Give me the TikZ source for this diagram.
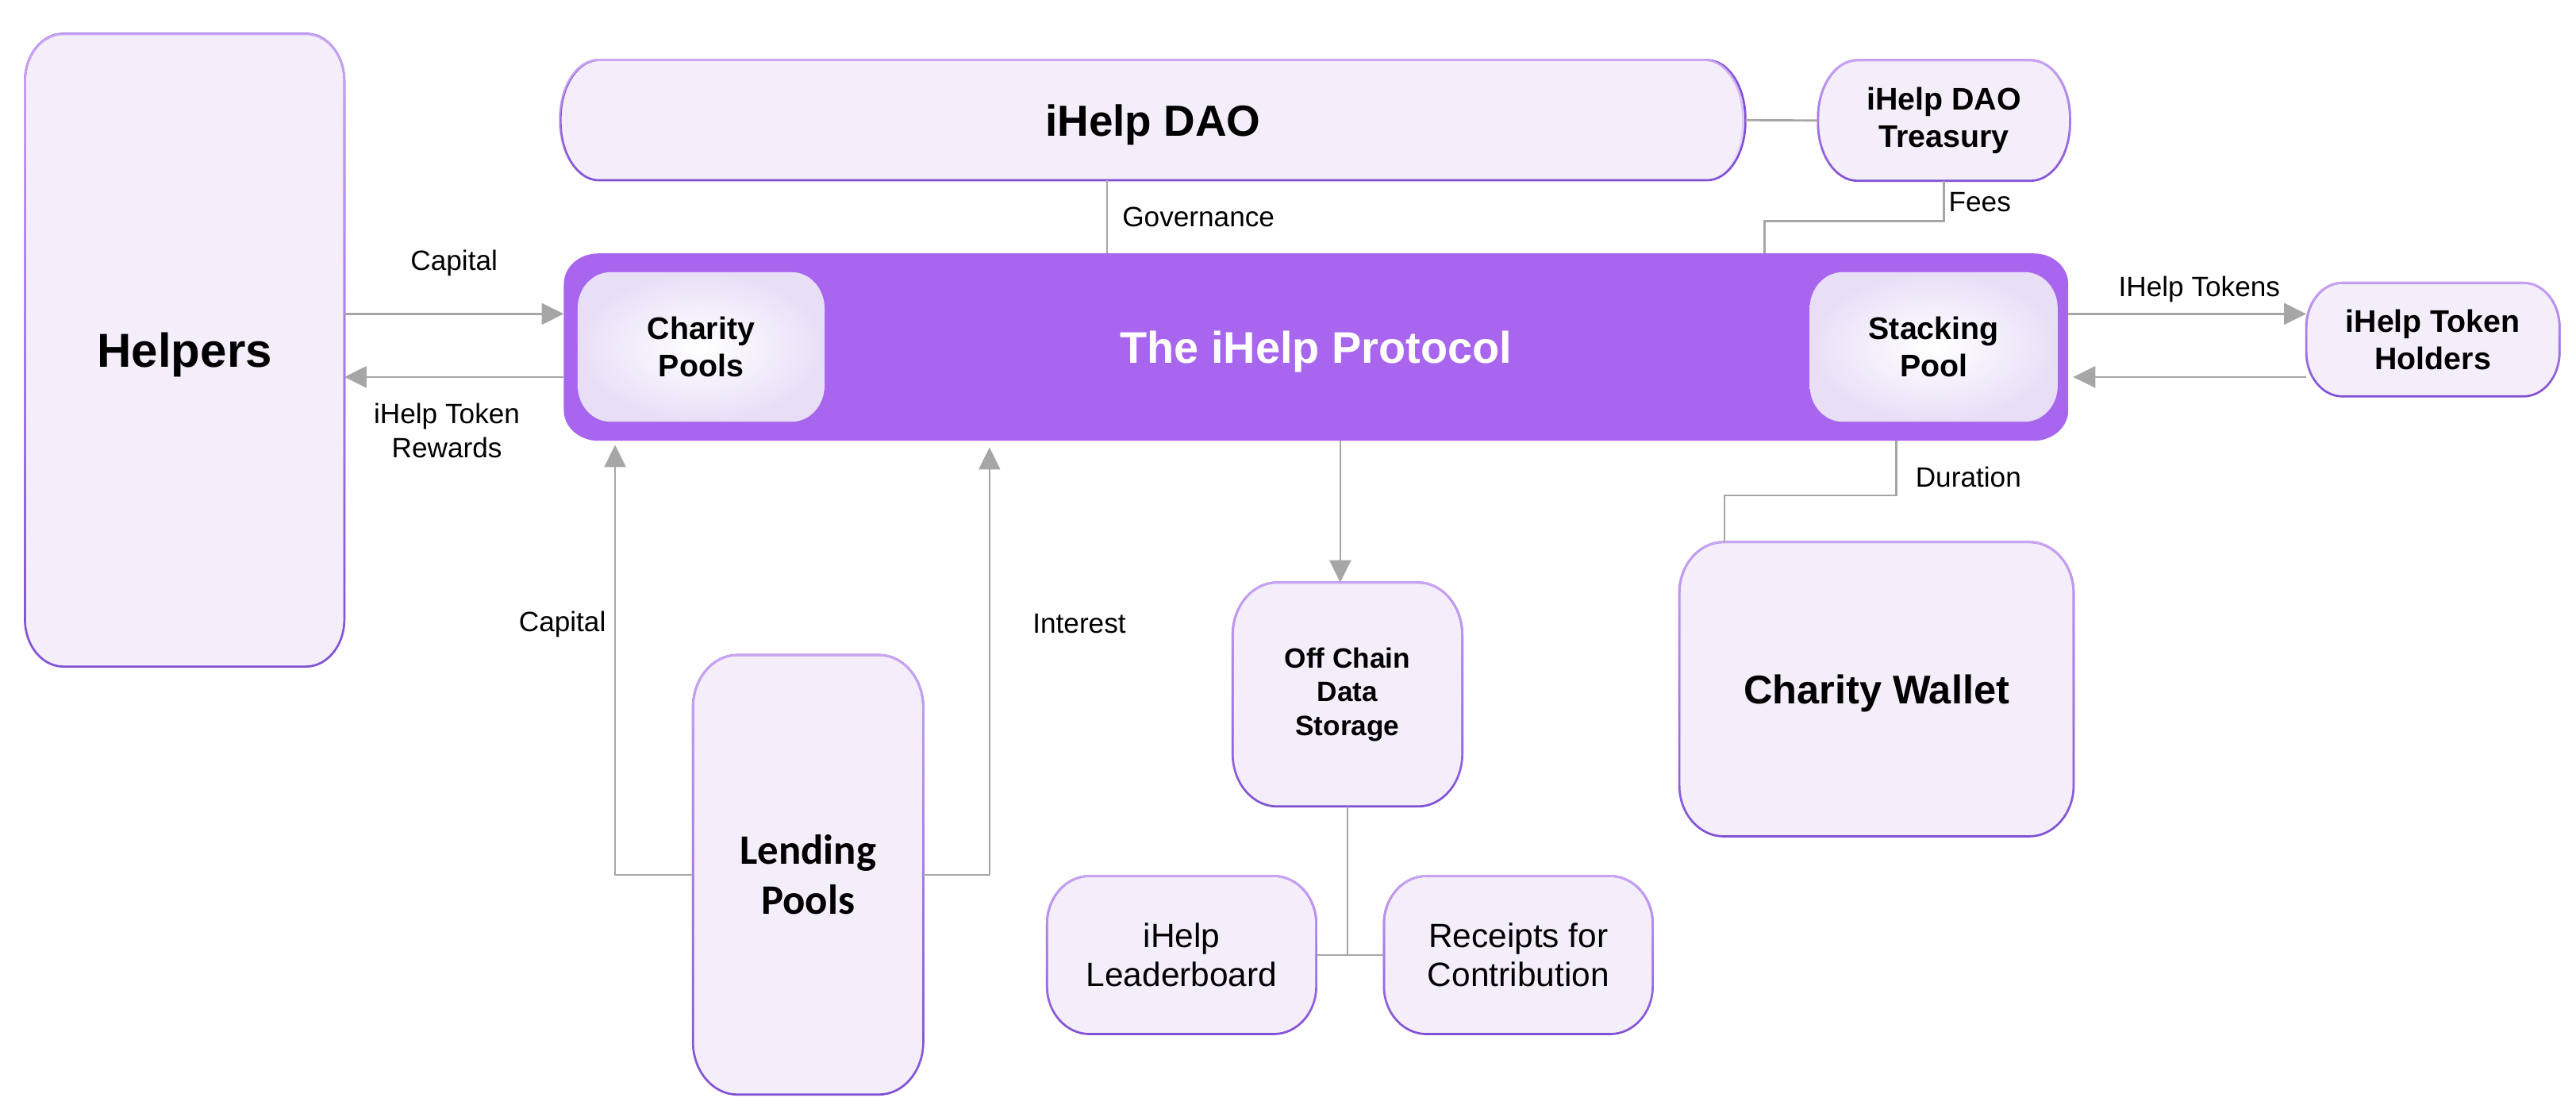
\documentclass[tikz,border=0pt]{standalone}
\usepackage{fontspec}
\setmainfont{Liberation Sans}
\newfontfamily\calibrifont{Carlito}
\usetikzlibrary{arrows.meta, calc, fadings}
\definecolor{boxfill}{HTML}{F4EEFB}
\definecolor{boxtop}{HTML}{CBA6F4}
\definecolor{boxbot}{HTML}{8150D6}
\definecolor{protofill}{HTML}{A866EF}
\definecolor{poolrim}{HTML}{E8DFF7}
\definecolor{linkgray}{HTML}{A6A6A6}
\pgfdeclarelayer{frames}
\pgfsetlayers{frames,main}
\newcommand{\frameit}[4]{%
	\begin{pgfonlayer}{frames}
		\path[#4]($(#1.north west)+(#2,0)$)--($(#1.north east)+(-#2,0)$)
			arc[start angle=270, end angle=360, x radius=#2, y radius=#3]
			--($(#1.south east)+(0,-#3)$)
			arc[start angle=0, end angle=90, x radius=#2, y radius=#3]
			--($(#1.south west)+(#2,0)$)
			arc[start angle=90, end angle=180, x radius=#2, y radius=#3]
			--($(#1.north west)+(0,#3)$)
			arc[start angle=180, end angle=270, x radius=#2, y radius=#3]--cycle;
	\end{pgfonlayer}}
\tikzset{
	box/.style={inner sep=0pt, align=center},
	midtext/.style={font=\fontsize{19}{23}\selectfont\bfseries},
	plaintext/.style={font=\fontsize{20.5}{23.7}\selectfont},
	softbox/.style={fill=boxfill, draw=boxbot, line width=1.3pt, postaction={draw=boxtop, line width=1.3pt, path fading=south}},
	protobox/.style={fill=protofill},
	poolbox/.style={inner color=white, outer color=poolrim},
	link/.style={draw=linkgray, line width=1.3pt},
	flow/.style={link, -{Triangle[length=13.5pt, width=13pt]}},
	lbl/.style={inner sep=0pt, font=\fontsize{17}{20.5}\selectfont},
}

\begin{document}
\begin{tikzpicture}[x=1pt, y=-1pt]
		\useasboundingbox(0, 0)rectangle(1568, 679.2);
		\node[box, minimum width=194pt, minimum height=384.7pt, text depth=0pt, font=\fontsize{29}{34}\selectfont\bfseries](helpers)at(112.4, 213.05){Helpers};
		\node[box, minimum width=720.8pt, minimum height=72.8pt, text depth=0pt, font=\fontsize{26.5}{31}\selectfont\bfseries](dao)at(701.8, 73.1){iHelp DAO};
		\node[box, midtext, minimum width=153pt, minimum height=73pt](treasury)at(1183.3, 73.3){iHelp DAO\\Treasury};
		\node[box, minimum width=915.3pt, minimum height=113.6pt, text depth=0pt, text=white, font=\fontsize{27}{32}\selectfont\bfseries](protocol)at(801.05, 211.2){The iHelp Protocol};
		\node[box, midtext, minimum width=149.9pt, minimum height=90.6pt](cpool)at(426.75, 211.1){Charity\\Pools};
		\node[box, midtext, minimum width=150.5pt, minimum height=90.6pt](spool)at(1177.05, 211.1){Stacking\\Pool};
		\node[box, midtext, minimum width=153.8pt, minimum height=68.7pt](holders)at(1480.9, 206.65){iHelp Token\\Holders};
		\node[box, minimum width=139.8pt, minimum height=267.1pt, font=\fontsize{25.5}{30.7}\selectfont\calibrifont\bfseries](lending)at(491.9, 532.25){Lending\\Pools};
		\node[box, minimum width=139.4pt, minimum height=135.9pt, font=\fontsize{17}{20.5}\selectfont\bfseries](offchain)at(820.2, 422.55){Off Chain\\Data\\Storage};
		\node[box, plaintext, minimum width=163.5pt, minimum height=95.8pt](leader)at(719.25, 581.1){iHelp\\Leaderboard};
		\node[box, plaintext, minimum width=163.2pt, minimum height=95.8pt](receipts)at(924.2, 581.1){Receipts for\\Contribution};
		\node[box, minimum width=239.6pt, minimum height=178.7pt, text depth=0pt, font=\fontsize{24.4}{29}\selectfont\bfseries](wallet)at(1142.2, 419.35){Charity Wallet};
		% frames behind the texts
		\frameit{helpers}{23.4}{28.6}{softbox}
		\frameit{dao}{23.4}{35.7}{softbox}
		\frameit{treasury}{24}{35}{softbox}
		\frameit{protocol}{21}{18.5}{protobox}
		\frameit{cpool}{20}{22}{poolbox}
		\frameit{spool}{20}{22}{poolbox}
		\frameit{holders}{22}{27}{softbox}
		\frameit{lending}{27}{32}{softbox}
		\frameit{offchain}{27}{32}{softbox}
		\frameit{leader}{26}{29}{softbox}
		\frameit{receipts}{26}{29}{softbox}
		\frameit{wallet}{27}{31}{softbox}
		% connectors
		\coordinate(feesbend)at(1074, 134.4);
		\coordinate(durbend)at(1049.7, 301.5);
		\draw[link](dao.east)--(treasury.west);
		\draw[link](dao.south -| 673.8,0)--(protocol.north -| 673.8,0);
		\draw[link](treasury.south)|-(feesbend)--(feesbend |- protocol.north);
		\draw[flow](helpers.east |- 0,191)--(protocol.west |- 0,191);
		\draw[flow](protocol.west |- 0,229.4)--(helpers.east |- 0,229.4);
		\draw[flow](protocol.east |- 0,191)--(holders.west |- 0,191);
		\draw[flow, shorten >=3pt](holders.west |- 0,229.4)--(protocol.east |- 0,229.4);
		\draw[flow, shorten >=2.5pt](lending.west)-|(protocol.south -| 374.4,0);
		\draw[flow, shorten >=4pt](lending.east)-|(protocol.south -| 602.3,0);
		\draw[flow](protocol.south -| 815.8,0)--(offchain.north -| 815.8,0);
		\draw[link](offchain.south)--(offchain.south |- leader.east);
		\draw[link](leader.east)--(receipts.west);
		\draw[link](protocol.south -| 1154.2,0)|-(durbend)--(durbend |- wallet.north);
		% labels
		\node[lbl, anchor=base](capinlbl)at(276.4, 164.5){Capital};
		\node[lbl, align=center](rewardlbl)at(272, 262){iHelp Token\\Rewards};
		\node[lbl, anchor=base west](govlbl)at(683, 137.8){Governance};
		\node[lbl, anchor=base west](feeslbl)at(1186, 128.5){Fees};
		\node[lbl, anchor=base](tokenlbl)at(1338.7, 180.3){IHelp Tokens};
		\node[lbl, anchor=base](caplbl)at(342.3, 384.5){Capital};
		\node[lbl, anchor=base west](intlbl)at(628.4, 385.3){Interest};
		\node[lbl, anchor=base west](durlbl)at(1165.8, 296.5){Duration};
	\end{tikzpicture}
\end{document}
